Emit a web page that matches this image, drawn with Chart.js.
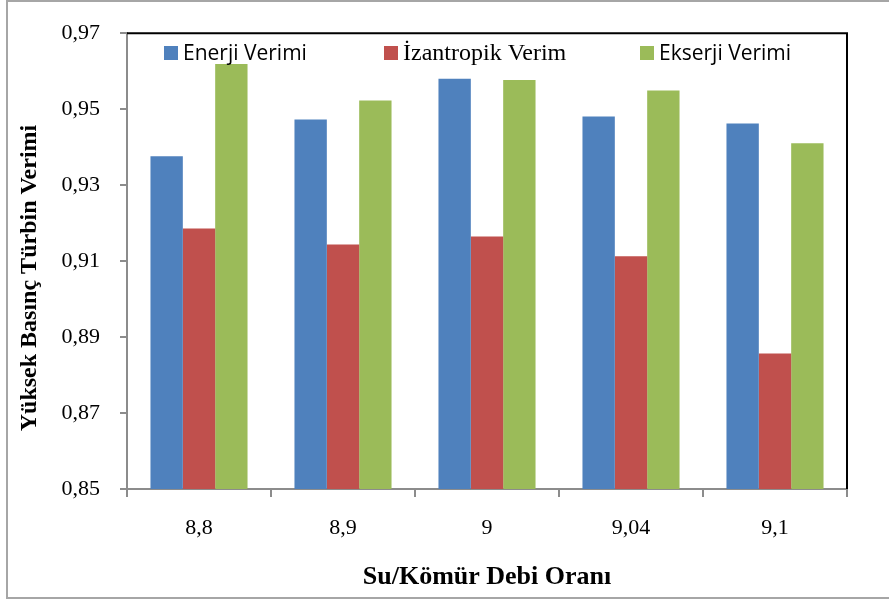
<!DOCTYPE html>
<html>
<head>
<meta charset="utf-8">
<script src="https://cdn.jsdelivr.net/npm/chart.js@4/dist/chart.umd.min.js"></script>
<style>
  html, body { margin: 0; padding: 0; background: #fff; }
  canvas { display: block; }
</style>
</head>
<body>
<canvas id="c" width="889" height="603"></canvas>
<script>
// Su/Kömür debi oranı
const categories = ['8,8', '8,9', '9', '9,04', '9,1'];

// Verim değerleri
const enerjiVerimi = [0.9376, 0.9473, 0.9580, 0.9481, 0.9462];
const izantropikVerim = [0.9186, 0.9144, 0.9165, 0.9113, 0.8857];
const ekserjiVerimi = [0.9619, 0.9523, 0.9577, 0.9549, 0.9410];

const seriesNames = ['Enerji Verimi', 'İzantropik Verim', 'Ekserji Verimi'];
const yTicks = [0.85, 0.87, 0.89, 0.91, 0.93, 0.95, 0.97];

const yTitle = 'Yüksek Basınç Türbin Verimi';
const xTitle = 'Su/Kömür Debi Oranı';

const SERIF = '"Liberation Serif", "Times New Roman", serif';
const SANS = '"Open Sans", "Noto Sans", sans-serif';

// Outer frame, plot border, in-plot legend and vertical axis title
const decor = {
  id: 'decor',
  beforeDraw(chart) {
    const ctx = chart.ctx;
    ctx.save();
    ctx.fillStyle = '#fff';
    ctx.fillRect(0, 0, chart.width, chart.height);
    ctx.strokeStyle = '#a6a6a6';
    ctx.lineWidth = 2;
    ctx.strokeRect(7, 1, chart.width + 10, 597);
    ctx.restore();
  },
  afterDatasetsDraw(chart) {
    const ctx = chart.ctx;
    const a = chart.chartArea;
    ctx.save();
    // top and right edges of the plot area
    ctx.strokeStyle = '#000';
    ctx.lineWidth = 2;
    ctx.beginPath();
    ctx.moveTo(a.left, a.top);
    ctx.lineTo(a.right, a.top);
    ctx.lineTo(a.right, a.bottom);
    ctx.stroke();

    // legend
    const boxX = [164, 384, 640];
    const fonts = ['21px ' + SANS, '24px ' + SERIF, '21px ' + SANS];
    chart.data.datasets.forEach((ds, i) => {
      ctx.fillStyle = ds.backgroundColor;
      ctx.fillRect(boxX[i], 46, 14, 14);
      ctx.fillStyle = '#000';
      ctx.font = fonts[i];
      ctx.textAlign = 'left';
      ctx.textBaseline = 'alphabetic';
      ctx.fillText(ds.label, boxX[i] + 19, 60);
    });

    // vertical axis title
    ctx.translate(30, 278);
    ctx.rotate(-Math.PI / 2);
    ctx.font = 'bold 24px ' + SERIF;
    ctx.textAlign = 'center';
    ctx.textBaseline = 'middle';
    ctx.fillStyle = '#000';
    ctx.fillText(yTitle, 0, 0);
    ctx.restore();
  }
};

new Chart(document.getElementById('c'), {
  type: 'bar',
  data: {
    labels: categories,
    datasets: [
      { label: seriesNames[0], data: enerjiVerimi, backgroundColor: '#4f81bd' },
      { label: seriesNames[1], data: izantropikVerim, backgroundColor: '#c0504d' },
      { label: seriesNames[2], data: ekserjiVerimi, backgroundColor: '#9bbb59' }
    ]
  },
  options: {
    responsive: false,
    animation: false,
    devicePixelRatio: 1,
    layout: { padding: { top: 29, right: 42, left: 0, bottom: 0 } },
    datasets: { bar: { categoryPercentage: 0.674, barPercentage: 1.0, borderWidth: 0 } },
    plugins: {
      legend: { display: false },
      tooltip: { enabled: false }
    },
    scales: {
      x: {
        grid: { drawOnChartArea: false, drawTicks: true, tickLength: 8, color: '#8c8c8c', lineWidth: 2, offset: true },
        border: { color: '#8c8c8c', width: 2 },
        ticks: { font: { family: SERIF, size: 22 }, color: '#000', padding: 18, maxRotation: 0 },
        title: {
          display: true, text: xTitle, color: '#000',
          font: { family: SERIF, size: 26, weight: 'bold' },
          padding: { top: 0, bottom: 10 }
        },
        afterFit(s) { s.height = 114; }
      },
      y: {
        min: 0.85,
        max: 0.97,
        afterBuildTicks(s) { s.ticks = yTicks.map(v => ({ value: v })); },
        grid: { drawOnChartArea: false, drawTicks: true, tickLength: 7, color: '#8c8c8c', lineWidth: 2 },
        border: { color: '#8c8c8c', width: 2 },
        ticks: {
          font: { family: SERIF, size: 22 }, color: '#000', padding: 20,
          callback: v => v.toFixed(2).replace('.', ',')
        },
        afterFit(s) { s.width = 127; }
      }
    }
  },
  plugins: [decor]
});
</script>
</body>
</html>
